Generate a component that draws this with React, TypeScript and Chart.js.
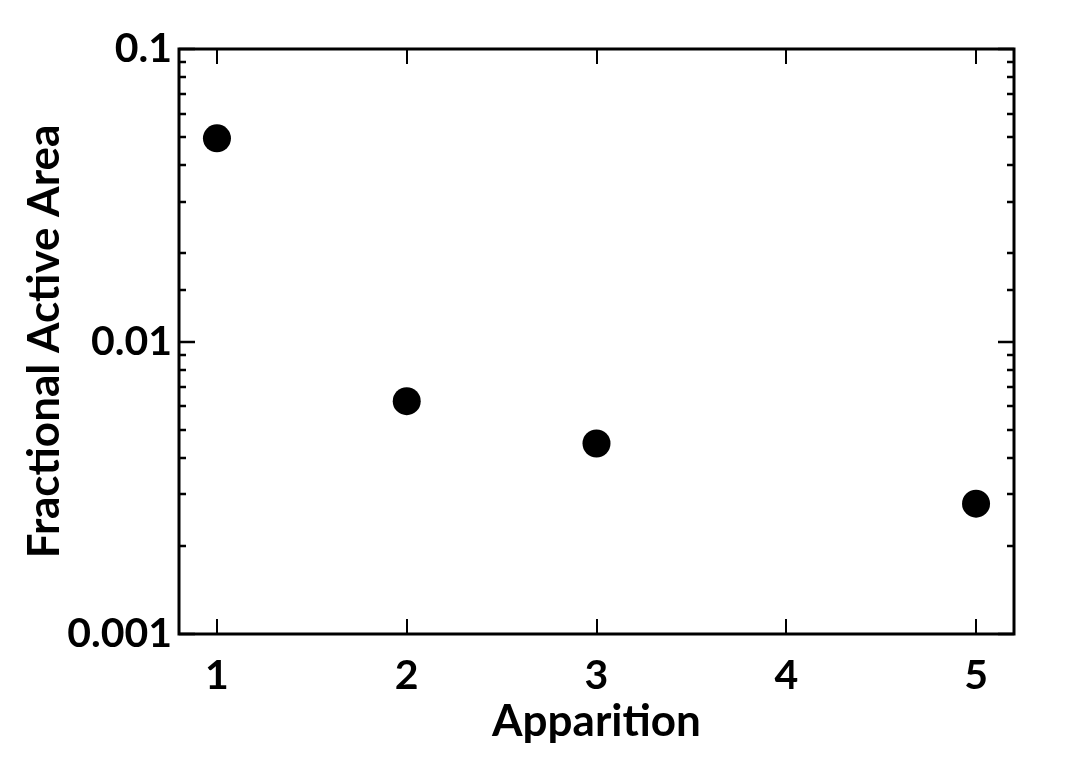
import React, { useEffect, useRef } from "react";
import { Chart, registerables } from "chart.js";

Chart.register(...registerables);

const apparitions = [1, 2, 3, 5];
const fractionalActiveArea = [0.0495, 0.00625, 0.00448, 0.00279];
const xTickValues = [1, 2, 3, 4, 5];
const yMajorLabels = [0.001, 0.01, 0.1];

const FONT = "Lato, 'Open Sans', sans-serif";

const isPow10 = (v: number) => {
  const l = Math.log10(v);
  return Math.abs(l - Math.round(l)) < 1e-9;
};

const framePlugin = {
  id: "frameTicks",
  afterDraw(chart: any) {
    const { ctx, chartArea } = chart;
    const { left, right, top, bottom } = chartArea;
    const x = chart.scales.x;
    const y = chart.scales.y;
    ctx.save();
    ctx.strokeStyle = "#000";
    ctx.lineCap = "butt";
    ctx.lineWidth = 2;
    x.ticks.forEach((t: any) => {
      if (!xTickValues.includes(t.value)) return;
      const px = Math.round(x.getPixelForValue(t.value));
      ctx.beginPath();
      ctx.moveTo(px, bottom);
      ctx.lineTo(px, bottom - 15);
      ctx.moveTo(px, top);
      ctx.lineTo(px, top + 15);
      ctx.stroke();
    });
    ctx.lineWidth = 2.5;
    y.ticks.forEach((t: any) => {
      const v = t.value;
      if (v < 0.001 - 1e-12 || v > 0.1 + 1e-12) return;
      const py = Math.round(y.getPixelForValue(v));
      const len = isPow10(v) ? 16 : 7;
      ctx.beginPath();
      ctx.moveTo(left, py);
      ctx.lineTo(left + len, py);
      ctx.moveTo(right, py);
      ctx.lineTo(right - len, py);
      ctx.stroke();
    });
    ctx.lineWidth = 3;
    ctx.strokeRect(left, top, right - left, bottom - top);
    ctx.restore();
  },
};

export default function App() {
  const ref = useRef<HTMLCanvasElement | null>(null);

  useEffect(() => {
    if (!ref.current) return;
    const chart = new Chart(ref.current, {
      type: "scatter",
      data: {
        datasets: [
          {
            label: "Fractional Active Area",
            data: apparitions.map((a, i) => ({ x: a, y: fractionalActiveArea[i] })),
            backgroundColor: "#000",
            borderColor: "#000",
            pointRadius: 14,
            pointHoverRadius: 14,
            borderWidth: 0,
          },
        ],
      },
      options: {
        animation: false,
        responsive: false,
        devicePixelRatio: 1,
        layout: { padding: { left: 0, top: 49, right: 51, bottom: 0 } },
        plugins: { legend: { display: false }, tooltip: { enabled: false } },
        scales: {
          x: {
            type: "linear",
            min: 0.8,
            max: 5.2,
            grid: { display: false, drawTicks: false },
            border: { display: false },
            ticks: {
              stepSize: 1,
              includeBounds: false,
              padding: 17,
              color: "#000",
              font: { family: FONT, size: 41, weight: "bold" },
              callback: (v: any) => (xTickValues.includes(Number(v)) ? String(v) : ""),
            },
            title: {
              display: true,
              text: "Apparition",
              color: "#000",
              font: { family: FONT, size: 44, weight: "bold" },
              padding: { top: 0, bottom: 26 },
            },
            afterFit: (s: any) => {
              s.height = 140;
            },
          },
          y: {
            type: "logarithmic",
            min: 0.001,
            max: 0.1,
            grid: { display: false, drawTicks: false },
            border: { display: false },
            ticks: {
              padding: 7,
              color: "#000",
              autoSkip: false,
              font: { family: FONT, size: 41, weight: "bold" },
              callback: (v: any) => {
                const n = Number(v);
                const m = yMajorLabels.find((l) => Math.abs(l - n) / l < 1e-9);
                return m !== undefined ? String(m) : "";
              },
            },
            title: {
              display: true,
              text: "Fractional Active Area",
              color: "#000",
              font: { family: FONT, size: 44, weight: "bold" },
              padding: { top: 18, bottom: 0 },
            },
            afterFit: (s: any) => {
              s.width = 179;
            },
          },
        },
      },
      plugins: [framePlugin],
    });
    return () => chart.destroy();
  }, []);

  return (
    <div style={{ position: "fixed", left: 0, top: 0, width: 1065, height: 774, background: "#fff" }}>
      <canvas ref={ref} width={1065} height={774} />
    </div>
  );
}
